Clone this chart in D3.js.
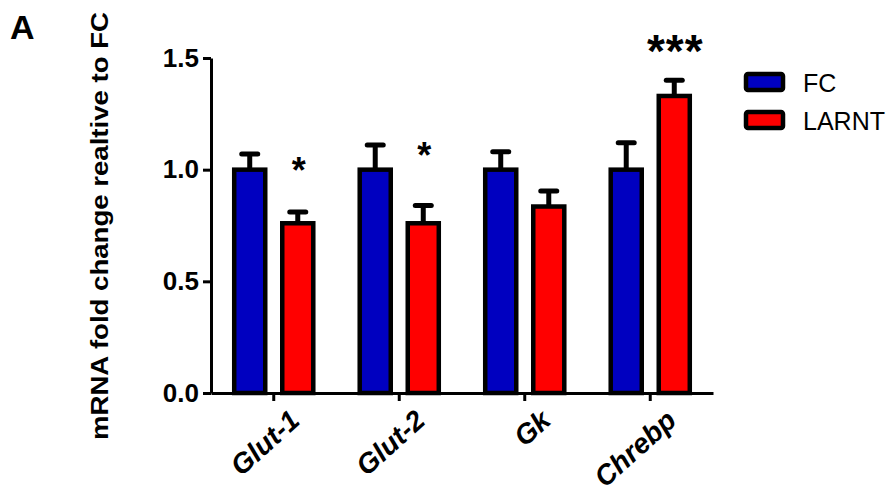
<!DOCTYPE html>
<html>
<head>
<meta charset="utf-8">
<script src="https://cdn.jsdelivr.net/npm/d3@7"></script>
<style>
  body { margin: 0; background: #fff; }
  svg text { font-family: "Liberation Sans", Arial, sans-serif; }
</style>
</head>
<body>
<div class="container"></div>
<script>
var genes = ["Glut-1", "Glut-2", "Gk", "Chrebp"];
var series = ["FC", "LARNT"];
var fcMean = [1.0, 1.0, 1.0, 1.0];
var fcErr = [0.07, 0.11, 0.08, 0.12];
var larntMean = [0.76, 0.76, 0.835, 1.33];
var larntErr = [0.05, 0.08, 0.07, 0.07];
var stars = ["*", "*", "", "***"];
var starLevel = [1.03, 1.10, 0, 1.575];
var yTicks = [0, 0.5, 1.0, 1.5];
var colors = ["#0000C0", "#FF0000"];

const WIDTH = 894;
const HEIGHT = 493;

var translate = function(x, y){
  return "translate(" + x + "," + y + ")";
};

var _xScale = d3.scaleBand()
  .domain(genes)
  .range([211, 713])
  .padding(0);

var bw = _xScale.bandwidth();
var _subScale = d3.scaleBand()
  .domain(series)
  .range([bw * 0.185, bw * 0.815])
  .paddingInner(0.354);

var _yScale = d3.scaleLinear()
  .domain([0, 1.5])
  .range([393, 58]);

var _color = d3.scaleOrdinal().domain(series).range(colors);

var barCenter = function(d){
  return _xScale(d.gene) + _subScale(d.s) + _subScale.bandwidth() / 2;
};

var generateChart = function(){
  var svg = d3.select(".container").append("svg")
    .attr("width", WIDTH)
    .attr("height", HEIGHT);

  // panel letter
  svg.append("text")
    .attr("x", 10).attr("y", 39)
    .style("font-size", "34px").style("font-weight", "bold")
    .text("A");

  var rows = genes.map(function(g, i){
    return [
      {gene: g, s: "FC", v: fcMean[i], e: fcErr[i]},
      {gene: g, s: "LARNT", v: larntMean[i], e: larntErr[i]}
    ];
  });
  var flat = [].concat.apply([], rows);

  var g = svg.append("g");

  // error bars (upper only, under the bars)
  var eb = g.selectAll(".err").data(flat).enter().append("g").classed("err", true);
  eb.append("line")
    .attr("x1", barCenter).attr("x2", barCenter)
    .attr("y1", function(d){ return _yScale(d.v); })
    .attr("y2", function(d){ return _yScale(d.v + d.e); })
    .attr("stroke", "#000").attr("stroke-width", 5);
  eb.append("line")
    .attr("x1", function(d){ return barCenter(d) - 8; })
    .attr("x2", function(d){ return barCenter(d) + 8; })
    .attr("y1", function(d){ return _yScale(d.v + d.e); })
    .attr("y2", function(d){ return _yScale(d.v + d.e); })
    .attr("stroke", "#000").attr("stroke-width", 5).attr("stroke-linecap", "round");

  // bars
  g.selectAll("rect.bar").data(flat).enter().append("rect")
    .classed("bar", true)
    .attr("x", function(d){ return _xScale(d.gene) + _subScale(d.s); })
    .attr("y", function(d){ return _yScale(d.v); })
    .attr("width", _subScale.bandwidth())
    .attr("height", function(d){ return _yScale(0) - _yScale(d.v); })
    .attr("fill", function(d){ return _color(d.s); })
    .attr("stroke", "#000")
    .attr("stroke-width", 4.5);

  // significance stars
  var starSize = function(i){ return stars[i].length > 1 ? 46 : 36; };
  g.selectAll("text.star").data(genes).enter().append("text")
    .classed("star", true)
    .attr("x", function(d){ return _xScale(d) + _subScale("LARNT") + _subScale.bandwidth() / 2 + 1; })
    .attr("y", function(d, i){ return _yScale(starLevel[i]) + 0.57 * starSize(i); })
    .attr("text-anchor", "middle")
    .style("font-size", function(d, i){ return starSize(i) + "px"; })
    .style("font-weight", "bold")
    .style("letter-spacing", function(d, i){ return stars[i].length > 1 ? "1px" : "0px"; })
    .text(function(d, i){ return stars[i]; });

  // axes
  var yAxis = d3.axisLeft(_yScale).tickValues(yTicks).tickFormat(d3.format(".1f"))
    .tickSize(8).tickSizeOuter(0).tickPadding(4);
  var yG = svg.append("g").attr("transform", translate(211, 0)).call(yAxis);
  yG.selectAll("path, line").attr("stroke", "#000").attr("stroke-width", 3);
  yG.selectAll("text").style("font-size", "26px").style("font-weight", "bold")
    .style("font-family", "Liberation Sans, Arial, sans-serif").attr("fill", "#000");

  var xAxis = d3.axisBottom(_xScale).tickSize(8).tickSizeOuter(0).tickPadding(6);
  var xG = svg.append("g").attr("transform", translate(0, 393)).call(xAxis);
  xG.selectAll("path, line").attr("stroke", "#000").attr("stroke-width", 3);
  xG.selectAll("text")
    .style("font-size", "28px").style("font-weight", "bold").style("font-style", "italic")
    .style("font-family", "Liberation Sans, Arial, sans-serif").attr("fill", "#000")
    .attr("text-anchor", "end")
    .attr("dy", "0.55em")
    .attr("transform", "translate(8,8) rotate(-42)");

  // y title
  svg.append("text")
    .attr("transform", translate(108, 226) + " rotate(-90)")
    .attr("text-anchor", "middle")
    .attr("textLength", 428)
    .attr("lengthAdjust", "spacingAndGlyphs")
    .style("font-size", "23px").style("font-weight", "bold")
    .text("mRNA fold change realtive to FC");

  // legend
  var lg = svg.selectAll("g.legend").data(series).enter().append("g")
    .classed("legend", true)
    .attr("transform", function(d, i){ return translate(746, 74 + i * 38); });
  lg.append("rect")
    .attr("width", 37).attr("height", 16).attr("rx", 2)
    .attr("fill", function(d){ return _color(d); })
    .attr("stroke", "#000").attr("stroke-width", 4.5);
  lg.append("text")
    .attr("x", 57).attr("y", 18)
    .style("font-size", "25px")
    .text(function(d){ return d; });
};

window.onload = generateChart;
</script>
</body>
</html>
